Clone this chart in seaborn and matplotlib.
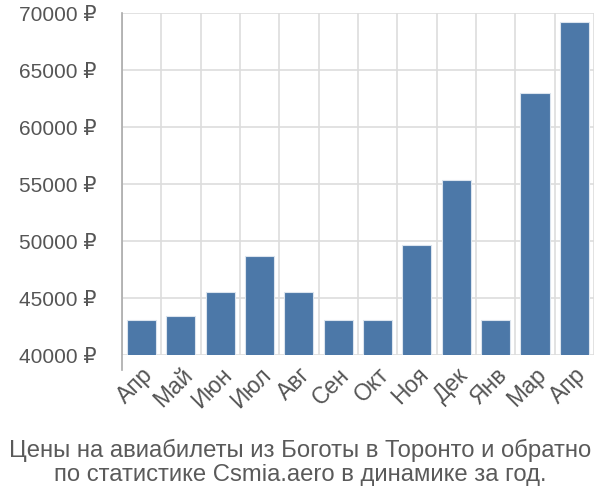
import matplotlib
matplotlib.use("Agg")
import matplotlib.pyplot as plt
import numpy as np
import pandas as pd
import seaborn as sns

# Data
months = ["Апр", "Май", "Июн", "Июл", "Авг", "Сен", "Окт", "Ноя", "Дек", "Янв", "Мар", "Апр"]
prices = [43100, 43450, 45550, 48700, 45550, 43100, 43100, 49680, 55380, 43100, 62960, 69250]
yticks = [40000, 45000, 50000, 55000, 60000, 65000, 70000]

sns.set_theme(style="white")
plt.rcParams['font.family'] = ['Liberation Sans', 'DejaVu Sans']

df = pd.DataFrame({"pos": np.arange(len(months)), "price": prices})

fig = plt.figure(figsize=(6, 5), dpi=100)
ax = fig.add_axes([0.203, 0.29, 0.787, 0.684])

sns.barplot(data=df, x="pos", y="price", color="#4c78a8", saturation=1,
            width=0.74, edgecolor="#dbe4ee", linewidth=0.8, ax=ax, zorder=3)

grid_c = "#dddddd"
ax.set_ylim(40000, 70000)
ax.set_xlim(-0.5, len(months) - 0.5)
ax.set_yticks(yticks)
ax.set_yticklabels([f"{v} ₽" for v in yticks], fontsize=15, color="#555555")
ax.set_xticks(np.arange(len(months)))
ax.set_xticklabels(months, rotation=45, ha="right", rotation_mode="anchor",
                   fontsize=16.5, color="#555555")
ax.set_xticks(np.arange(len(months) + 1) - 0.5, minor=True)
ax.tick_params(axis="x", which="major", length=0, pad=6)
ax.tick_params(axis="x", which="minor", length=16, color=grid_c, width=1.2)
ax.tick_params(axis="y", length=16, color=grid_c, width=1.2, pad=2)
ax.grid(axis="y", color=grid_c, linewidth=1.2, zorder=0)
ax.grid(axis="x", which="minor", color=grid_c, linewidth=1.2, zorder=0)
ax.set_axisbelow(True)
for side in ["top", "right", "bottom"]:
    ax.spines[side].set_visible(False)
ax.spines["left"].set_color("#aaaaaa")
ax.spines["left"].set_linewidth(1.2)
ax.spines["left"].set_bounds(38700, 70000)
ax.set_xlabel("")
ax.set_ylabel("")

fig.text(0.5, 0.027, "Цены на авиабилеты из Боготы в Торонто и обратно\nпо статистике Csmia.aero в динамике за год.",
         ha="center", va="bottom", fontsize=17.2, color="#5a5a5a", linespacing=1.15)

fig.savefig("out.png", dpi=100)
